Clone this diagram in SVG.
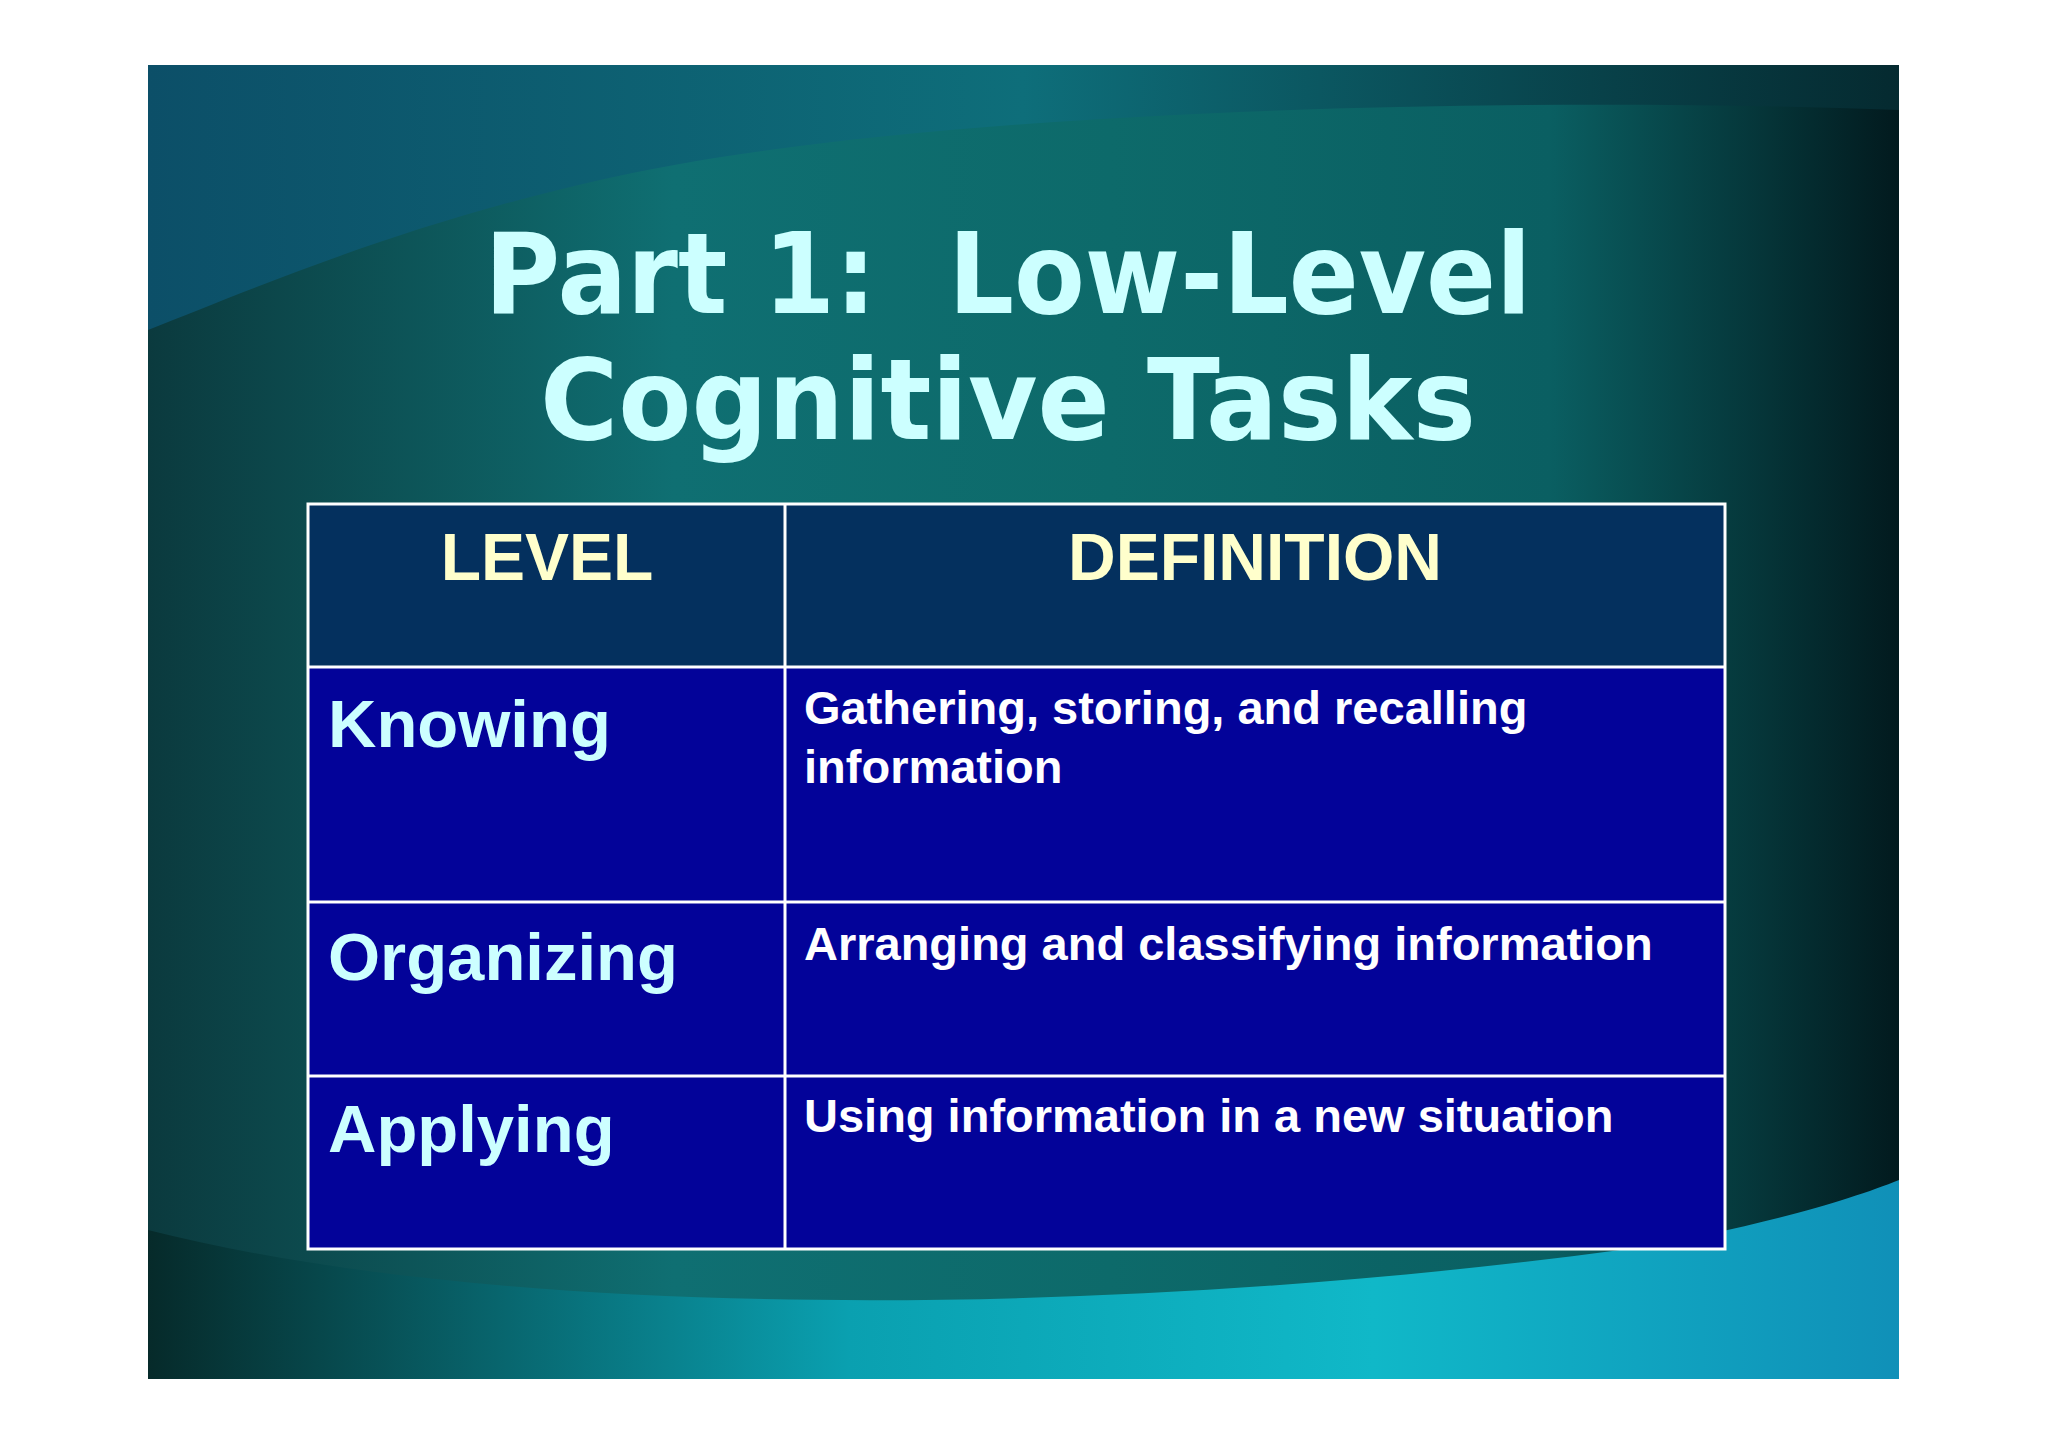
<svg xmlns="http://www.w3.org/2000/svg" width="2048" height="1447" viewBox="0 0 2048 1447">
<defs>
<linearGradient id="bg" x1="0" y1="0" x2="1" y2="0">
<stop offset="0" stop-color="#0b3a3e"/><stop offset="0.3" stop-color="#0f6f72"/><stop offset="0.55" stop-color="#0d6a6a"/><stop offset="0.8" stop-color="#0a5f62"/><stop offset="1" stop-color="#021a1e"/>
</linearGradient>
<linearGradient id="top" x1="0" y1="0" x2="1" y2="0">
<stop offset="0" stop-color="#0c4f68"/><stop offset="0.5" stop-color="#0e6e7a"/><stop offset="1" stop-color="#052a30"/>
</linearGradient>
<linearGradient id="bot" x1="0" y1="0" x2="1" y2="0">
<stop offset="0" stop-color="#062a2a"/><stop offset="0.4" stop-color="#0aa0b0"/><stop offset="0.7" stop-color="#10b8c8"/><stop offset="1" stop-color="#1090b8"/>
</linearGradient>
<style>
.h{font-family:"Liberation Sans",Arial,sans-serif;font-weight:bold;font-size:66px;fill:#ffffcc;text-anchor:middle}
.l{font-family:"Liberation Sans",Arial,sans-serif;font-weight:bold;font-size:67px;fill:#ccffff}
.d{font-family:"Liberation Sans",Arial,sans-serif;font-weight:bold;font-size:47px;fill:#ffffff}
.t{font-family:"DejaVu Sans",sans-serif;font-weight:bold;font-size:112px;fill:#ccffff;text-anchor:middle}
.g{stroke:#ffffff;stroke-width:3;fill:none}
</style>
</defs>
<rect x="148" y="65" width="1751" height="1314" fill="url(#bg)"/>
<path d="M148 65 H1899 V110 C1500 95 900 110 600 180 C400 225 250 290 148 330 Z" fill="url(#top)"/>
<path d="M148 1379 V1230 C500 1320 1100 1320 1620 1250 C1750 1230 1850 1200 1899 1180 V1379 Z" fill="url(#bot)"/>
<text class="t" x="1008" y="313" textLength="1047" lengthAdjust="spacingAndGlyphs" xml:space="preserve">Part 1:  Low-Level</text>
<text class="t" x="1008" y="439" textLength="936" lengthAdjust="spacingAndGlyphs">Cognitive Tasks</text>
<g id="table">
<rect x="308" y="504" width="1417" height="163" fill="#04305e"/>
<rect x="308" y="667" width="1417" height="582" fill="#030399"/>
<rect class="g" x="308" y="504" width="1417" height="745"/>
<path class="g" d="M785 504V1249M308 667H1725M308 902H1725M308 1076H1725"/>
</g>
<g id="header"><text class="h" x="547" y="580">LEVEL</text><text class="h" x="1255" y="580">DEFINITION</text></g>
<g id="knowing"><text class="l" x="328" y="747">Knowing</text><text class="d" x="804" y="724">Gathering, storing, and recalling</text><text class="d" x="804" y="783">information</text></g>
<g id="organizing"><text class="l" x="328" y="980">Organizing</text><text class="d" x="804" y="960">Arranging and classifying information</text></g>
<g id="applying"><text class="l" x="328" y="1152">Applying</text><text class="d" x="804" y="1132">Using information in a new situation</text></g>
<g id="connectors"/>
</svg>
